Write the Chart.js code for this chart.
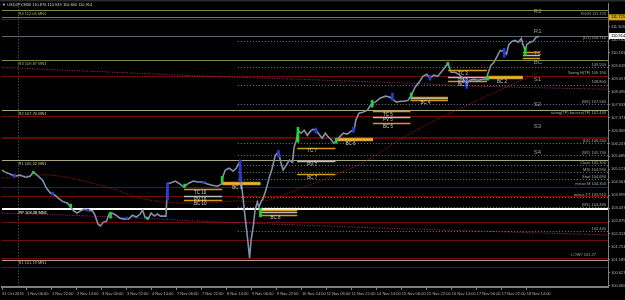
<!DOCTYPE html>
<html><head><meta charset="utf-8">
<script src="https://cdn.jsdelivr.net/npm/chart.js@4.4.1/dist/chart.umd.min.js"></script>
<style>html,body{margin:0;padding:0;background:#000;overflow:hidden}canvas{display:block}</style>
</head><body><canvas id="c" width="625" height="300"></canvas>
<script>
// ---------------- DATA ----------------
const headerText = "USDJPY,M30 110.876 110.949 110.840 110.914";
const timeLabels = ["31 Oct 2016","1 Nov 06:00","1 Nov 22:00","2 Nov 14:00","3 Nov 06:00","3 Nov 22:00","4 Nov 14:00","7 Nov 06:00","7 Nov 22:00","8 Nov 14:00","9 Nov 06:00","9 Nov 22:00","10 Nov 14:00","11 Nov 06:00","11 Nov 22:00","14 Nov 14:00","15 Nov 06:00","15 Nov 22:00","16 Nov 14:00","17 Nov 06:00","17 Nov 22:00","18 Nov 14:00"];
const timeTickIdx = [0,32,64,96,128,160,192,224,256,288,320,352,384,416,448,480,512,544,576,608,640,672];
const yTicks = [100.065,100.627,101.189,101.751,102.313,102.875,103.437,103.999,104.561,105.123,105.685,106.247,106.809,107.371,107.933,108.495,109.057,109.619,110.181,110.743,111.305];

// M30 bar index / close (sampled along the price trace)
const priceIdx = [0,4,11,16,23,30,36,40,45,52,57,62,68,72,77,84,87,91,96,100,105,110,116,119,123,126,130,134,137,141,146,151,157,162,167,172,177,180,183,187,191,195,199,203,210,212,215,222,228,233,239,245,251,258,263,269,276,281,282,286,291,296,300,304,306,309,311,314,317,319,322,324,327,329,332,334,338,342,346,350,354,357,360,364,368,372,374,377,379,383,387,391,395,398,402,406,410,414,418,421,425,428,432,437,442,447,451,453,457,462,468,471,474,478,484,491,497,500,505,510,515,520,524,529,534,539,544,548,553,558,564,567,571,575,580,585,590,595,599,604,610,615,620,622,626,630,634,638,642,646,649,653,657,661,665,667,670,672,676,680,684,688];
const priceClose = [105.09,105.00,104.91,104.82,104.87,104.78,104.82,105.00,104.87,104.65,104.30,104.09,104.00,103.87,103.74,103.65,103.52,103.35,103.22,103.31,103.39,103.35,103.31,103.13,102.74,102.66,102.83,102.87,103.18,103.22,103.13,103.00,102.96,102.96,103.13,103.05,103.18,103.35,103.05,102.96,103.22,103.09,103.18,103.09,103.09,104.52,104.52,104.61,104.48,104.35,104.52,104.61,104.57,104.57,104.48,104.43,104.39,104.48,104.74,105.09,105.17,105.04,105.17,105.43,104.65,103.78,103.13,102.27,101.27,102.05,102.70,103.35,103.70,103.48,103.74,103.83,104.22,104.74,105.17,105.74,105.87,105.43,105.09,105.30,105.52,105.43,106.08,106.39,106.82,106.69,106.82,106.60,106.78,106.86,106.82,106.65,106.47,106.69,106.52,106.43,106.26,106.34,106.52,106.69,106.65,106.78,106.86,107.25,107.56,107.60,107.69,107.86,107.99,108.04,108.21,108.30,108.25,108.17,108.04,108.08,108.08,108.12,108.34,108.69,108.90,109.16,109.25,109.08,109.21,109.16,109.42,109.55,109.73,109.34,109.34,109.25,109.08,108.82,108.99,109.03,108.99,109.03,109.03,109.25,109.64,109.77,110.03,110.29,110.25,110.12,110.55,110.68,110.72,110.64,110.81,110.55,110.29,110.55,110.64,110.68,110.86,110.90];

// highlighted candles
const candleIdx  = [16,40,65,88,110,139,160,186,212,234,258,282,305,331,354,379,402,428,450,474,500,524,548,571,595,622,643,670];
const candleLow  = [104.78,104.95,104.00,103.48,103.30,103.00,102.96,102.96,103.78,104.35,104.50,104.57,104.57,103.05,105.65,106.30,106.69,106.26,106.73,107.82,108.12,108.25,108.99,109.64,108.64,108.99,109.99,110.07];
const candleHigh = [104.91,105.04,104.13,103.61,103.39,103.26,103.05,103.05,104.52,104.48,104.60,104.82,105.52,103.43,105.95,106.95,106.91,106.47,106.95,108.12,108.43,108.43,109.21,109.77,109.08,109.16,110.38,110.42];
const candleDir  = ['dn','up','dn','up','dn','up','dn','up','dn','up','dn','up','dn','up','dn','up','dn','up','dn','up','dn','up','dn','up','dn','up','dn','up'];

// moving averages
const maRedIdx = [0,62,126,190,254,296,340,382,426,468,523,609,688];
const maRedVal = [104.74,104.87,104.43,103.78,103.65,103.74,103.78,104.30,104.87,105.52,106.69,108.12,109.34];
const maUpIdx = [0,87,177,267,382,523,612,776];
const maUpVal = [109.55,109.42,109.29,109.16,109.03,108.86,108.73,108.60];
const maLoIdx = [0,84,177,254,382,523,776];
const maLoVal = [103.22,103.13,103.00,102.87,102.70,102.53,102.27];

// monthly pivots and other full-width levels
const mn1Labels = ["R4 112.04 MN1","R3 109.87 MN1","R2 107.70 MN1","R1 105.52 MN1","PP 103.38 MN1","S1 101.19 MN1"];
const mn1Values = [112.04,109.87,107.70,105.52,103.38,101.19];
const solidLevels = [112.04,111.725,111.64,110.90,109.87,109.16,107.70,107.43,106.47,105.52,104.35,103.97,103.38,102.84,102.05,101.27,101.19,100.88];
const solidKinds  = ['mnHi','gold','red','slate','mnHi','red','mnLo','red','redThick','mnLo','red','red','pp','red','red','red','s1','red'];
const separatorIdx = 20;

// dotted levels with their tags
const dotStart = 302;
const dotLevels = [110.71,109.55,109.19,108.80,107.94,106.26,105.73,105.30,104.99,104.69,103.91,103.48,102.44];
const dotLabels = ["(D1) 110.710","109.550","Swing H(TF) 109.190","108.800","(W1) 107.940","(D1) 106.260","(W1) 105.730","Close 105.300","MID 104.990","Start 104.690","minus TT 103.910","(W1) 103.480","102.440"];
const tagValues = [111.725,107.43,104.35,101.27];
const tagTexts  = ["75%R 111.725","swing(TF) bounce(TF) 107.430","minus M 104.350","LOW# 101.27"];

// daily CPR segments
const cprDay   = ["10","9","8","7","6","5","4","3","2","1"];
const cprStart = [233,282,331,378,427,475,523,571,621,667];
const cprEnd   = [282,331,378,427,475,523,571,621,667,689];
const cprTC = [104.26,104.58,103.35,106.05,106.50,107.64,108.25,109.42,109.16,110.20];
const cprPV = [103.96,104.52,103.26,105.48,106.45,107.40,108.21,109.12,109.12,110.07];
const cprBC = [103.78,104.48,103.15,104.91,106.39,107.12,108.14,108.95,109.08,109.94];

// daily pivot side labels
const sideTexts  = ["R2","R1","TC","BC","S1","S2","S3","S4"];
const sideValues = [111.98,111.11,110.16,109.77,109.03,107.95,106.99,105.87];

const markPrice = 111.725;
const bidPrice = 110.914;

// ---------------- STYLES ----------------
const FONT = "'Liberation Sans', Arial, sans-serif";
const levelStyle = {
  mnHi:{c:'#7f8e3c',w:1}, mnLo:{c:'#a9a67c',w:1}, gold:{c:'#8c7622',w:1},
  red:{c:'#6e0b0b',w:1}, redThick:{c:'#620808',w:2}, slate:{c:'#56687c',w:1},
  pp:{c:'#ffffff',w:2}, s1:{c:'#b99191',w:1}
};
const mn1TextColors = ['#a9ba62','#a9ba62','#cfcca6','#cfcca6','#ffffff','#d9b3b3'];
const candleColors = {dn:'#2a38d6', up:'#1fd33a'};

const overlay = {
  id:'overlay',
  beforeDraw(chart){ const c=chart.ctx; c.save(); c.fillStyle='#000'; c.fillRect(0,0,chart.width,chart.height); c.restore(); },
  beforeDatasetsDraw(chart){
    const {ctx, chartArea:a, scales:{x,y}} = chart;
    ctx.save();
    ctx.beginPath(); ctx.rect(a.left,a.top,a.right-a.left,a.bottom-a.top); ctx.clip();
    const hline=(p,x0,x1,color,w,dash)=>{
      const py=y.getPixelForValue(p); const yy=(w%2)?Math.round(py)+0.5:Math.round(py);
      ctx.strokeStyle=color; ctx.lineWidth=w; ctx.setLineDash(dash||[]);
      ctx.beginPath(); ctx.moveTo(x0,yy); ctx.lineTo(x1,yy); ctx.stroke();
    };
    const sx=Math.round(x.getPixelForValue(separatorIdx))+0.5;
    ctx.strokeStyle='#6c6c6c'; ctx.lineWidth=1; ctx.setLineDash([1,2]);
    ctx.beginPath(); ctx.moveTo(sx,a.top); ctx.lineTo(sx,a.bottom); ctx.stroke();
    const dx0=x.getPixelForValue(dotStart);
    dotLevels.forEach(p=>hline(p,dx0,a.right,'#7c7c7c',1,[1,2]));
    solidLevels.forEach((p,k)=>{const s=levelStyle[solidKinds[k]]; hline(p,a.left,a.right,s.c,s.w);});
    cprDay.forEach((d,k)=>{
      const x0=x.getPixelForValue(cprStart[k]), x1=x.getPixelForValue(cprEnd[k]);
      hline(cprBC[k],x0,x1,'#d99a16',1.5);
      hline(cprPV[k],x0,x1,'#bdbdbd',1.5);
      hline(cprTC[k],x0,x1,'#d99a16',1.5);
    });
    ctx.restore();
  },
  afterDatasetsDraw(chart){
    const {ctx, chartArea:a, scales:{x,y}} = chart;
    ctx.save();
    ctx.setLineDash([]);
    ctx.font=`4px ${FONT}`;
    const lx=x.getPixelForValue(separatorIdx)+1;
    ctx.textAlign='left'; ctx.textBaseline='top';
    mn1Values.forEach((p,k)=>{ctx.fillStyle=mn1TextColors[k]; ctx.fillText(mn1Labels[k],lx,y.getPixelForValue(p)+1.5);});
    ctx.textAlign='right'; ctx.textBaseline='bottom'; ctx.fillStyle='#a8a8a8';
    dotLevels.forEach((p,k)=>ctx.fillText(dotLabels[k],a.right-2,y.getPixelForValue(p)-0.5));
    tagValues.forEach((p,k)=>ctx.fillText(tagTexts[k],a.right-(k===3?12:2),y.getPixelForValue(p)-1));
    ctx.font=`4.5px ${FONT}`; ctx.textAlign='left'; ctx.textBaseline='top'; ctx.fillStyle='#cfcfcf';
    cprDay.forEach((d,k)=>{
      if(d==='1') return;
      const x0=x.getPixelForValue(cprStart[k])+10;
      const wide=(cprTC[k]-cprBC[k])>0.2;
      if(wide){
        ctx.fillText('TC '+d,x0,y.getPixelForValue(cprTC[k])+1);
        ctx.fillText('PV '+d,x0,y.getPixelForValue(cprPV[k])+1);
      }
      ctx.fillText('BC '+d,x0,y.getPixelForValue(cprBC[k])+1);
    });
    ctx.font=`6px ${FONT}`; ctx.textBaseline='middle'; ctx.fillStyle='#9c9c9c';
    const sxl=x.getPixelForValue(681);
    sideValues.forEach((p,k)=>ctx.fillText(sideTexts[k],sxl,y.getPixelForValue(p)));
    ctx.restore();
  },
  afterDraw(chart){
    const {ctx, chartArea:a, scales:{y}} = chart;
    ctx.save();
    const box=(p,bg)=>{const py=y.getPixelForValue(p); ctx.fillStyle=bg; ctx.fillRect(a.right+1,py-3,chart.width-a.right-1,6);
      ctx.fillStyle='#000'; ctx.font=`4px ${FONT}`; ctx.textAlign='left'; ctx.textBaseline='middle'; ctx.fillText(p.toFixed(3),a.right+3,py);};
    box(markPrice,'#d6a616'); box(bidPrice,'#f2f2f2');
    ctx.fillStyle='#2c2c2c'; ctx.fillRect(0,0,chart.width,1.5);
    ctx.fillStyle='#d2d2d2'; ctx.font=`4px ${FONT}`; ctx.textAlign='left'; ctx.textBaseline='middle';
    ctx.fillText('\u25BC '+headerText,2,4.5);
    ctx.restore();
  }
};

const pts=(ix,vals)=>ix.map((v,k)=>({x:v,y:vals[k]}));

new Chart(document.getElementById('c'),{
  type:'line',
  data:{datasets:[
    {type:'bar',data:candleIdx.map((v,k)=>({x:v,y:[candleLow[k],candleHigh[k]]})),
     backgroundColor:candleDir.map(d=>candleColors[d]),barThickness:2,grouped:false,order:0},
    {type:'line',data:pts(priceIdx,priceClose),borderColor:'#8391a6',borderWidth:1.6,pointRadius:0,tension:0,order:1},
    {type:'line',data:pts(maRedIdx,maRedVal),borderColor:'#b81616',borderWidth:1,borderDash:[1,1.5],pointRadius:0,tension:0.35,order:2},
    {type:'line',data:pts(maUpIdx,maUpVal),borderColor:'#a4287e',borderWidth:1,borderDash:[1,1.5],pointRadius:0,tension:0.3,order:3},
    {type:'line',data:pts(maLoIdx,maLoVal),borderColor:'#a4287e',borderWidth:1,borderDash:[1,1.5],pointRadius:0,tension:0.3,order:3}
  ]},
  options:{
    responsive:false,animation:false,
    layout:{padding:{top:3,left:2,right:0,bottom:0}},
    plugins:{legend:{display:false},tooltip:{enabled:false}},
    scales:{
      x:{type:'linear',min:0,max:776,offset:false,
        afterBuildTicks:s=>{s.ticks=timeTickIdx.map(v=>({value:v}));},
        afterFit:s=>{s.height=13;},
        ticks:{autoSkip:false,maxRotation:0,minRotation:0,align:'start',padding:1,color:'#b4b4b4',font:{size:4,family:FONT},
          callback:(v,i)=>timeLabels[i]},
        grid:{offset:false,drawOnChartArea:false,drawTicks:true,tickLength:3,color:'#808080'},
        border:{color:'#7f7f7f',width:2}},
      y:{type:'linear',position:'right',min:100.01,max:112.33,beginAtZero:false,
        afterBuildTicks:s=>{s.ticks=yTicks.map(v=>({value:v}));},
        afterFit:s=>{s.width=17;},
        ticks:{autoSkip:false,padding:1,color:'#b4b4b4',font:{size:4,family:FONT},callback:v=>v.toFixed(3)},
        grid:{drawOnChartArea:false,drawTicks:true,tickLength:2,color:'#808080'},
        border:{color:'#7f7f7f',width:1}}
    }
  },
  plugins:[overlay]
});
</script></body></html>
